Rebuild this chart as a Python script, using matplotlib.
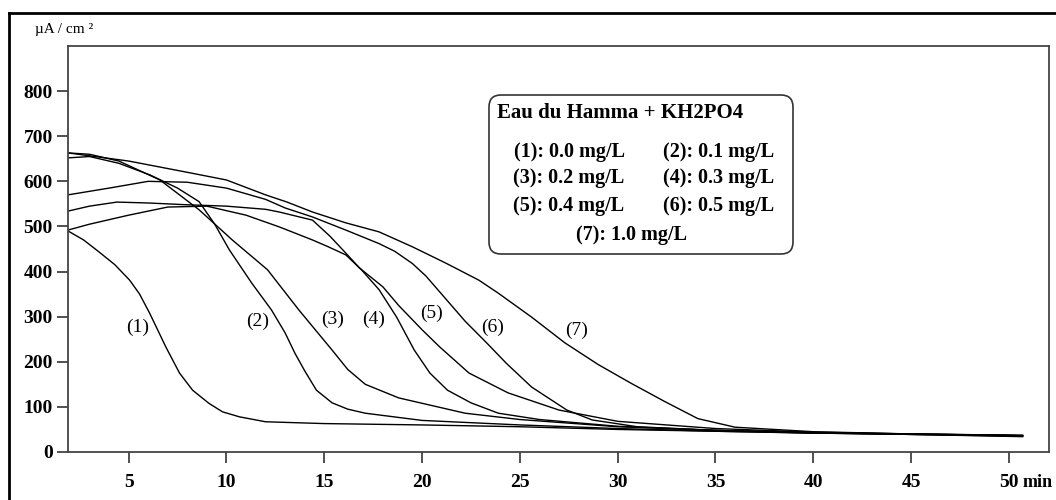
import matplotlib
matplotlib.use("Agg")
import matplotlib.pyplot as plt
from matplotlib.lines import Line2D
from matplotlib.patches import FancyBboxPatch

plt.rcParams['font.family'] = ['Liberation Serif', 'DejaVu Serif']

# current density (uA/cm2) vs time (min)
t1 = [1.9, 2.7, 3.5, 4.3, 5.05, 5.56, 6.07, 6.9, 7.6, 8.27, 9.1, 9.8, 10.66, 12.0, 15.0, 20.0, 25.0, 30.0, 35.0, 40.0, 45.0, 50.7]
c1 = [490, 470, 443, 415, 381, 350, 308, 233, 175, 137, 108, 89, 78, 67, 63, 60, 56, 50, 46, 42, 40, 37]

t2 = [1.9, 3.0, 4.5, 6.1, 7.5, 8.6, 9.4, 10.15, 11.3, 12.3, 13.0, 13.5, 14.0, 14.6, 15.4, 16.2, 17.1, 20.0, 25.0, 30.0, 35.0, 40.0, 45.0, 50.7]
c2 = [652, 655, 640, 614, 585, 555, 505, 448, 374, 315, 264, 219, 180, 137, 109, 95, 86, 70, 60, 52, 46, 42, 39, 36]

t3 = [1.9, 3.0, 4.5, 6.6, 8.6, 10.3, 12.1, 13.7, 15.4, 16.2, 17.1, 18.8, 22.2, 25.0, 30.0, 35.0, 40.0, 45.0, 50.7]
c3 = [663, 660, 645, 603, 537, 470, 404, 315, 226, 183, 150, 120, 86, 72, 56, 48, 43, 40, 37]

t4 = [1.9, 3.0, 5.0, 7.0, 9.0, 11.0, 12.7, 14.4, 15.2, 16.1, 16.9, 17.8, 18.7, 19.6, 20.4, 21.3, 22.5, 23.9, 26.0, 30.0, 35.0, 40.0, 45.0, 50.7]
c4 = [492, 505, 525, 543, 545, 525, 499, 470, 455, 437, 404, 360, 299, 226, 175, 137, 109, 86, 72, 57, 48, 43, 39, 35]

t5 = [1.9, 3.0, 4.4, 6.0, 8.0, 10.0, 12.0, 12.7, 14.4, 15.3, 16.1, 16.8, 18.0, 18.8, 20.0, 20.9, 22.4, 24.4, 27.0, 30.0, 35.0, 40.0, 45.0, 50.7]
c5 = [534, 545, 554, 552, 548, 545, 538, 532, 514, 478, 441, 408, 366, 325, 271, 233, 175, 131, 93, 68, 52, 44, 40, 36]

t6 = [1.9, 4.0, 6.0, 8.0, 10.0, 12.0, 13.0, 14.4, 16.1, 17.8, 18.6, 19.5, 20.2, 20.9, 21.6, 22.2, 23.3, 24.3, 25.6, 27.4, 28.7, 31.0, 35.0, 40.0, 45.0, 50.7]
c6 = [570, 585, 600, 598, 585, 560, 541, 521, 492, 462, 445, 418, 390, 355, 320, 290, 242, 197, 144, 93, 71, 56, 48, 42, 39, 34]

t7 = [1.9, 5.0, 8.0, 10.0, 12.0, 13.1, 14.4, 16.1, 17.8, 19.5, 21.2, 22.9, 23.9, 25.6, 27.3, 29.0, 30.7, 32.4, 34.1, 36.0, 40.0, 45.0, 50.7]
c7 = [663, 645, 620, 603, 570, 554, 532, 508, 488, 455, 419, 381, 352, 299, 242, 194, 152, 112, 74, 55, 45, 40, 36]

series = [(t1, c1), (t2, c2), (t3, c3), (t4, c4), (t5, c5), (t6, c6), (t7, c7)]

curve_labels = ['(1)', '(2)', '(3)', '(4)', '(5)', '(6)', '(7)']
label_x = [5.45, 11.6, 15.4, 17.5, 20.5, 23.6, 27.9]
label_y = [277, 289, 293, 293, 308, 277, 270]

legend_title = 'Eau du Hamma + KH2PO4'
legend_items = ['(1): 0.0 mg/L', '(2): 0.1 mg/L', '(3): 0.2 mg/L', '(4): 0.3 mg/L',
                '(5): 0.4 mg/L', '(6): 0.5 mg/L', '(7): 1.0 mg/L']

xticks = [5, 10, 15, 20, 25, 30, 35, 40, 45, 50]
yticks = [0, 100, 200, 300, 400, 500, 600, 700, 800]

W, H = 1056, 500
fig = plt.figure(figsize=(W / 100, H / 100), dpi=100)
ax = fig.add_axes([68 / W, 1 - 452 / H, (1049 - 68) / W, (452 - 46) / H])

for t, c in series:
    ax.plot(t, c, color='black', lw=1.0)

for lab, x, y in zip(curve_labels, label_x, label_y):
    ax.text(x, y, lab, fontsize=14, ha='center', va='center')

ax.set_xlim(1.9, 52.05)
ax.set_ylim(0, 900)
ax.set_xticks(xticks)
ax.set_xticklabels([str(v) for v in xticks], fontsize=14, fontweight='bold')
ax.set_yticks(yticks)
ax.set_yticklabels([str(v) for v in yticks], fontsize=14, fontweight='bold')
ax.tick_params(axis='x', direction='out', length=8, width=1.2, pad=8, colors='#333333', labelcolor='black')
ax.tick_params(axis='y', direction='out', length=8, width=1.2, pad=3, colors='#333333', labelcolor='black')
for s in ax.spines.values():
    s.set_color('#444444')
    s.set_linewidth(1.3)

# "min" after the last tick label
ax.text(50.72, -0.053, 'min', transform=ax.get_xaxis_transform(), fontsize=13,
        fontweight='bold', ha='left', va='top')

# unit label top-left
fig.text(35 / W, 1 - 29 / H, 'µA / cm ²', fontsize=11, ha='left', va='center')

# outer frame (clipped at right and bottom)
fig.add_artist(Line2D([9 / W, 1.0], [1 - 13 / H, 1 - 13 / H], color='black', lw=2, transform=fig.transFigure))
fig.add_artist(Line2D([9 / W, 9 / W], [0.0, 1 - 13 / H], color='black', lw=2, transform=fig.transFigure))

# legend box
box = FancyBboxPatch((489, H - 254), 304, 159, boxstyle='round,pad=0,rounding_size=12',
                     transform=None, facecolor='white', edgecolor='#333333', lw=1.2)
fig.add_artist(box)
fig.text(497 / W, 1 - 113 / H, legend_title, fontsize=15, fontweight='bold', ha='left', va='center')
rows_y = [152, 178, 206]
for i in range(3):
    fig.text(569 / W, 1 - rows_y[i] / H, legend_items[2 * i], fontsize=14.5, fontweight='bold', ha='center', va='center')
    fig.text(719 / W, 1 - rows_y[i] / H, legend_items[2 * i + 1], fontsize=14.5, fontweight='bold', ha='center', va='center')
fig.text(632 / W, 1 - 235 / H, legend_items[6], fontsize=14.5, fontweight='bold', ha='center', va='center')

fig.savefig('out.png', dpi=100)
